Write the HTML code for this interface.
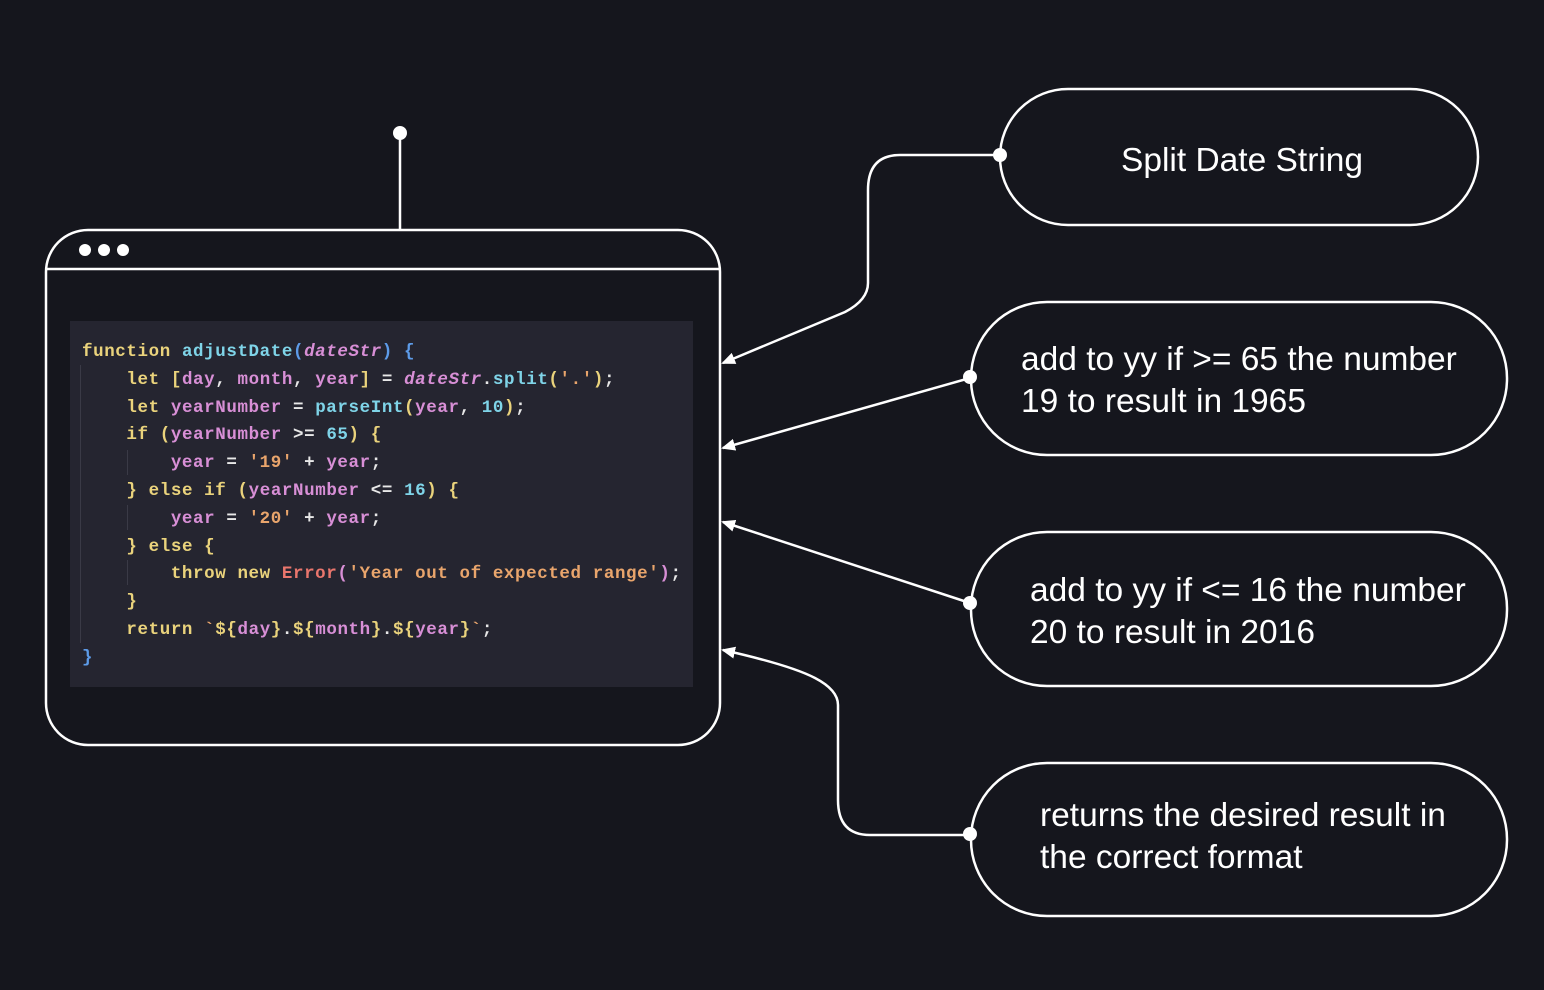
<!DOCTYPE html>
<html><head><meta charset="utf-8"><style>
html,body{margin:0;padding:0;background:#15161d;}
body{width:1544px;height:990px;position:relative;overflow:hidden;font-family:"Liberation Sans",sans-serif;}
svg{position:absolute;left:0;top:0;}
.code{position:absolute;left:70px;top:321px;width:623px;height:366px;background:#252530;}
pre{position:absolute;left:82px;top:339px;margin:0;font-family:"Liberation Mono",monospace;font-size:17.5px;letter-spacing:0.6px;line-height:27.8px;color:#e6d27a;font-weight:600;}
.k{color:#ead37c}.f{color:#7fd4e8}.v{color:#d88fd6}.i{color:#d88fd6;font-style:italic}.s{color:#e9a56c}.n{color:#7fd4e8}.e{color:#ea766d}.b{color:#5d9be8}.w{color:#e8e8e8}
.t{position:absolute;color:#fff;font-size:33.5px;line-height:42px;white-space:nowrap;}
.g{position:absolute;width:1px;background:#3a3a46;}
</style></head><body>
<div class="code"></div>
<div class="g" style="left:80px;top:365px;height:278px"></div>
<div class="g" style="left:127px;top:450px;height:25px"></div>
<div class="g" style="left:127px;top:505px;height:25px"></div>
<div class="g" style="left:127px;top:560px;height:25px"></div>
<pre><span class="k">function</span> <span class="f">adjustDate</span><span class="b">(</span><span class="i">dateStr</span><span class="b">)</span> <span class="b">{</span>
    <span class="k">let</span> <span class="k">[</span><span class="v">day</span><span class="w">,</span> <span class="v">month</span><span class="w">,</span> <span class="v">year</span><span class="k">]</span> <span class="w">=</span> <span class="i">dateStr</span><span class="w">.</span><span class="f">split</span><span class="k">(</span><span class="s">'.'</span><span class="k">)</span><span class="w">;</span>
    <span class="k">let</span> <span class="v">yearNumber</span> <span class="w">=</span> <span class="f">parseInt</span><span class="k">(</span><span class="v">year</span><span class="w">,</span> <span class="n">10</span><span class="k">)</span><span class="w">;</span>
    <span class="k">if</span> <span class="k">(</span><span class="v">yearNumber</span> <span class="w">&gt;=</span> <span class="n">65</span><span class="k">)</span> <span class="k">{</span>
        <span class="v">year</span> <span class="w">=</span> <span class="s">'19'</span> <span class="w">+</span> <span class="v">year</span><span class="w">;</span>
    <span class="k">}</span> <span class="k">else</span> <span class="k">if</span> <span class="k">(</span><span class="v">yearNumber</span> <span class="w">&lt;=</span> <span class="n">16</span><span class="k">)</span> <span class="k">{</span>
        <span class="v">year</span> <span class="w">=</span> <span class="s">'20'</span> <span class="w">+</span> <span class="v">year</span><span class="w">;</span>
    <span class="k">}</span> <span class="k">else</span> <span class="k">{</span>
        <span class="k">throw</span> <span class="k">new</span> <span class="e">Error</span><span class="v">(</span><span class="s">'Year out of expected range'</span><span class="v">)</span><span class="w">;</span>
    <span class="k">}</span>
    <span class="k">return</span> <span class="s">`</span><span class="k">${</span><span class="v">day</span><span class="k">}</span><span class="w">.</span><span class="k">${</span><span class="v">month</span><span class="k">}</span><span class="w">.</span><span class="k">${</span><span class="v">year</span><span class="k">}</span><span class="s">`</span><span class="w">;</span>
<span class="b">}</span></pre>
<svg width="1544" height="990" viewBox="0 0 1544 990">
<defs><marker id="a" markerWidth="14" markerHeight="12" refX="12" refY="6" orient="auto" markerUnits="userSpaceOnUse"><path d="M0,0 L14,6 L0,12 Z" fill="#fff"/></marker></defs>
<g fill="none" stroke="#fff" stroke-width="2.5">
<rect x="46" y="230" width="674" height="515" rx="42"/>
<line x1="46" y1="269" x2="720" y2="269"/>
<line x1="400" y1="133" x2="400" y2="230"/>
<rect x="1000" y="89" width="478" height="136" rx="68"/>
<rect x="971" y="302" width="536" height="153" rx="76"/>
<rect x="971" y="532" width="536" height="154" rx="76"/>
<rect x="971" y="763" width="536" height="153" rx="76"/>
<path d="M1000,155 L900,155 Q868,155 868,190 L868,283 Q868,300 845,312 L723,363" marker-end="url(#a)"/>
<path d="M970,378 L723,448" marker-end="url(#a)"/>
<path d="M970,603 L723,522" marker-end="url(#a)"/>
<path d="M970,835 L870,835 Q838,835 838,800 L838,705 Q838,690 815,678 Q790,665 723,650" marker-end="url(#a)"/>
</g>
<g fill="#fff">
<circle cx="400" cy="133" r="7"/>
<circle cx="85" cy="250" r="6"/><circle cx="104" cy="250" r="6"/><circle cx="123" cy="250" r="6"/>
<circle cx="1000" cy="155" r="7"/>
<circle cx="970" cy="377" r="7"/>
<circle cx="970" cy="603" r="7"/>
<circle cx="970" cy="834" r="7"/>
</g>
</svg>
<div class="t" style="left:1121px;top:140px">Split Date String</div>
<div class="t" style="left:1021px;top:339px">add to yy if &gt;= 65 the number<br>19 to result in 1965</div>
<div class="t" style="left:1030px;top:570px">add to yy if &lt;= 16 the number<br>20 to result in 2016</div>
<div class="t" style="left:1040px;top:795px">returns the desired result in<br>the correct format</div>
</body></html>
